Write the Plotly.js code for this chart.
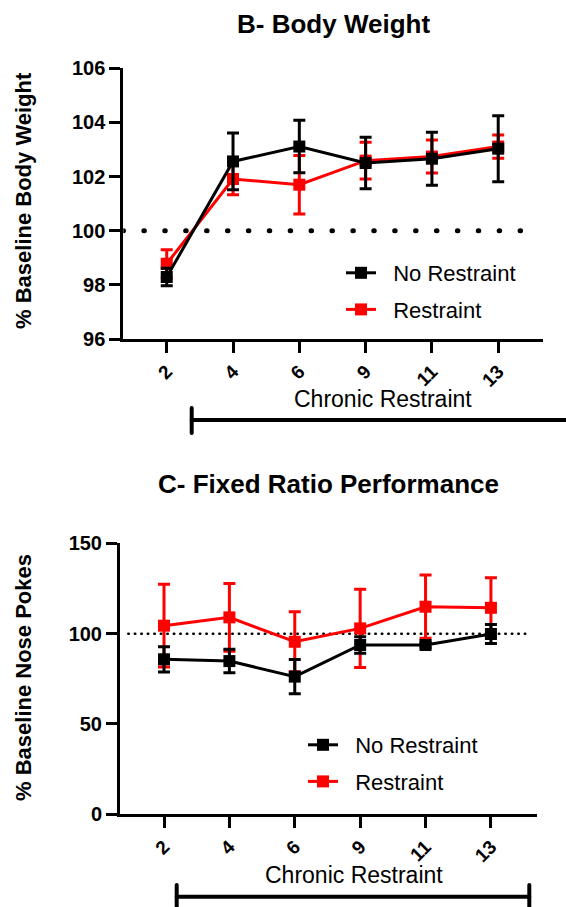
<!DOCTYPE html>
<html><head><meta charset="utf-8">
<script src="https://cdn.plot.ly/plotly-3.0.1.min.js"></script>
<style>
html,body{margin:0;padding:0;background:#fff;}
#chart{width:566px;height:907px;}
[class*="shapelayer"] path{stroke-linecap:round;}
</style></head><body><div id="chart"></div>
<script>
// ---- data ----
const days = ['2','4','6','9','11','13'];
const seriesNames = ['No Restraint','Restraint'];
const bwNoRestraint    = [98.29, 102.56, 103.11, 102.50, 102.66, 103.03];
const bwNoRestraintErr = [0.32, 1.05, 0.97, 0.95, 0.98, 1.22];
const bwRestraint      = [98.78, 101.91, 101.70, 102.59, 102.74, 103.11];
const bwRestraintErr   = [0.52, 0.58, 1.08, 0.68, 0.61, 0.43];
const frNoRestraint    = [85.8, 84.8, 76.2, 93.7, 93.7, 99.8];
const frNoRestraintErr = [7.0, 6.5, 9.5, 4.6, 1.5, 5.2];
const frRestraint      = [104.4, 109.0, 95.5, 102.9, 114.9, 114.3];
const frRestraintErr   = [22.9, 18.8, 16.6, 21.7, 17.5, 16.6];
const bwTicks = [96, 98, 100, 102, 104, 106];
const frTicks = [0, 50, 100, 150];
const baseline = 100;

// ---- layout helpers ----
const W = 566, H = 907;
const px = x => x / W;
const py = y => 1 - y / H;
const FONT = 'Liberation Sans, Arial, Helvetica, sans-serif';
const BLACK = '#000000', RED = '#ff0000';

function series(x, y, err, name, color, xa, ya, leg, grp, rank) {
  return {
    type: 'scatter', mode: 'lines+markers', x: x, y: y, name: '\u00a0\u00a0' + name,
    xaxis: xa, yaxis: ya, legend: leg, legendgroup: grp, legendrank: rank,
    line: {color: color, width: 3},
    marker: {symbol: 'square', size: 12, color: color},
    error_y: {type: 'data', array: err, visible: true, color: color, thickness: 3, width: 6},
    cliponaxis: false
  };
}

const data = [
  series(days, bwRestraint, bwRestraintErr, seriesNames[1], RED, 'x', 'y', 'legend', 'g1', 2),
  series(days, bwNoRestraint, bwNoRestraintErr, seriesNames[0], BLACK, 'x', 'y', 'legend', 'g2', 1),
  series(days, frRestraint, frRestraintErr, seriesNames[1], RED, 'x2', 'y2', 'legend2', 'g3', 2),
  series(days, frNoRestraint, frNoRestraintErr, seriesNames[0], BLACK, 'x2', 'y2', 'legend2', 'g4', 1)
];

const xCommon = {
  type: 'category', showgrid: false, zeroline: false, showline: true,
  linecolor: BLACK, linewidth: 3, ticks: 'outside', ticklen: 11, tickwidth: 3,
  tickcolor: BLACK, tickangle: -45,
  tickfont: {family: FONT, size: 19, color: BLACK, weight: 'bold'}
};
const yCommon = {
  showgrid: false, zeroline: false, showline: true,
  linecolor: BLACK, linewidth: 3, ticks: 'outside', ticklen: 11, tickwidth: 3,
  tickcolor: BLACK,
  tickfont: {family: FONT, size: 20, color: BLACK, weight: 'bold'}
};

const legendCommon = {
  font: {family: FONT, size: 22, color: BLACK},
  bgcolor: 'rgba(0,0,0,0)', borderwidth: 0, traceorder: 'grouped',
  xanchor: 'left', yanchor: 'top', itemwidth: 30, tracegroupgap: 5
};

const layout = {
  width: W, height: H,
  margin: {l: 0, r: 0, t: 0, b: 0},
  paper_bgcolor: '#fff', plot_bgcolor: 'rgba(0,0,0,0)',
  font: {family: FONT, color: BLACK},
  xaxis: Object.assign({}, xCommon, {domain: [px(123.3), px(543.3)], range: [-0.655, 5.68], anchor: 'y'}),
  yaxis: Object.assign({}, yCommon, {domain: [py(339), py(68.3)], range: [96, 106], tickvals: bwTicks, anchor: 'x'}),
  xaxis2: Object.assign({}, xCommon, {domain: [px(120), px(536.7)], range: [-0.673, 5.70], anchor: 'y2'}),
  yaxis2: Object.assign({}, yCommon, {domain: [py(814.3), py(543.3)], range: [0, 150], tickvals: frTicks, anchor: 'x2'}),
  legend: Object.assign({}, legendCommon, {x: px(341), y: py(252)}),
  legend2: Object.assign({}, legendCommon, {x: px(303), y: py(724)}),
  shapes: [
    {type: 'line', xref: 'x', yref: 'y', x0: -0.66, x1: 5.38, y0: baseline, y1: baseline,
     layer: 'below', line: {color: BLACK, width: 5, dash: '0.5px,20.4px'}},
    {type: 'line', xref: 'x2', yref: 'y2', x0: -0.546, x1: 5.57, y0: baseline, y1: baseline,
     layer: 'below', line: {color: BLACK, width: 2.5, dash: '0.5px,6px'}},
    // treatment brackets
    {type: 'line', xref: 'paper', yref: 'paper', x0: px(191.7), x1: px(566), y0: py(420), y1: py(420), line: {color: BLACK, width: 4}},
    {type: 'line', xref: 'paper', yref: 'paper', x0: px(191.7), x1: px(191.7), y0: py(408), y1: py(433), line: {color: BLACK, width: 4}},
    {type: 'line', xref: 'paper', yref: 'paper', x0: px(176.7), x1: px(529.3), y0: py(896.7), y1: py(896.7), line: {color: BLACK, width: 4}},
    {type: 'line', xref: 'paper', yref: 'paper', x0: px(176.7), x1: px(176.7), y0: py(885), y1: py(907), line: {color: BLACK, width: 4}},
    {type: 'line', xref: 'paper', yref: 'paper', x0: px(529.3), x1: px(529.3), y0: py(885), y1: py(907), line: {color: BLACK, width: 4}}
  ],
  annotations: [
    {text: '<b>B- Body Weight</b>', xref: 'paper', yref: 'paper', x: px(333), y: py(24), showarrow: false,
     xanchor: 'center', yanchor: 'middle', font: {family: FONT, size: 26, color: BLACK}},
    {text: '<b>C- Fixed Ratio Performance</b>', xref: 'paper', yref: 'paper', x: px(328), y: py(484), showarrow: false,
     xanchor: 'center', yanchor: 'middle', font: {family: FONT, size: 26, color: BLACK}},
    {text: 'Chronic Restraint', xref: 'paper', yref: 'paper', x: px(383), y: py(399), showarrow: false,
     xanchor: 'center', yanchor: 'middle', font: {family: FONT, size: 23, color: BLACK}},
    {text: 'Chronic Restraint', xref: 'paper', yref: 'paper', x: px(354), y: py(875), showarrow: false,
     xanchor: 'center', yanchor: 'middle', font: {family: FONT, size: 23, color: BLACK}},
    {text: '<b>% Baseline Body Weight</b>', xref: 'paper', yref: 'paper', x: px(23), y: py(201), showarrow: false,
     textangle: -90, xanchor: 'center', yanchor: 'middle', font: {family: FONT, size: 22, color: BLACK}},
    {text: '<b>% Baseline Nose Pokes</b>', xref: 'paper', yref: 'paper', x: px(23), y: py(678), showarrow: false,
     textangle: -90, xanchor: 'center', yanchor: 'middle', font: {family: FONT, size: 22, color: BLACK}}
  ]
};

Plotly.newPlot('chart', data, layout, {displayModeBar: false, staticPlot: true});
</script></body></html>
